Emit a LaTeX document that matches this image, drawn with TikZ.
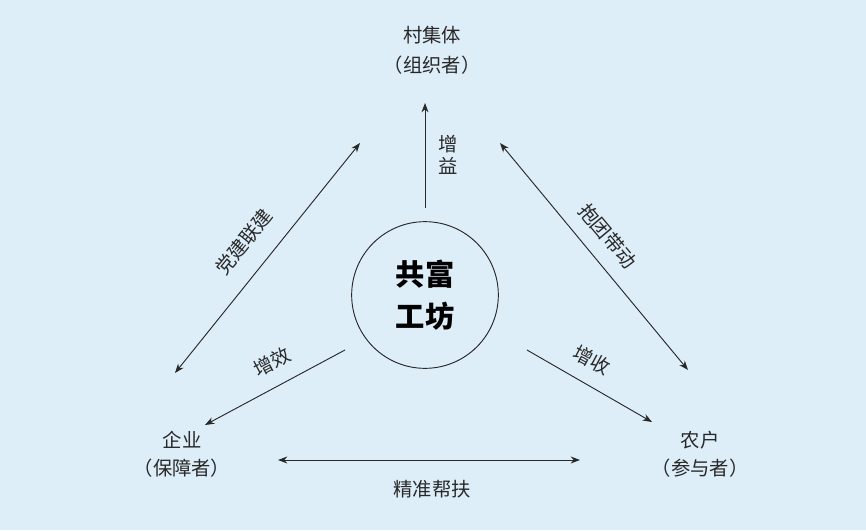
\documentclass[tikz,border=0pt]{standalone}
\usepackage{fontspec}
\newfontfamily\cjk{Noto Sans CJK SC}
\usetikzlibrary{arrows.meta}
\definecolor{bg}{RGB}{222,238,249}
\definecolor{ink}{RGB}{40,40,40}
\tikzset{
  lbl/.style={font=\cjk\fontsize{16.5}{19}\selectfont, text=ink, inner sep=0pt},
  arr/.style={-{Stealth[length=8pt,width=6pt]}, line width=0.8pt, draw=ink},
  darr/.style={{Stealth[length=8pt,width=6pt]}-{Stealth[length=8pt,width=6pt]}, line width=0.8pt, draw=ink}
}
\begin{document}
\begin{tikzpicture}[x=0.03cm,y=-0.03cm]
\fill[bg] (0,0) rectangle (866,530);
\useasboundingbox (0,0) rectangle (866,530);
\node[lbl] (t1) at (432,35) {村集体};
\node[lbl] (t2) at (432,65) {（组织者）};
\node[lbl] (l1) at (182,440) {企业};
\node[lbl] (l2) at (182,468) {（保障者）};
\node[lbl] (r1) at (700,440) {农户};
\node[lbl] (r2) at (700,468) {（参与者）};
\node[circle, draw=ink, line width=0.8pt, minimum size=4.4cm] (c) at (425,295) {};
\node[font=\cjk\bfseries\fontsize{25}{36}\selectfont, text=black, align=center] (ct) at (425,295) {共富\\工坊};
\coordinate (ua) at (425,208); \coordinate (ub) at (425,103);
\draw[arr] (ua) -- (ub);
\node[lbl, align=center] (zy) at (448,155) {增\\益};
\coordinate (la) at (360,143); \coordinate (lb) at (175,373);
\draw[darr] (la) -- (lb);
\node[lbl, rotate=51] (dj) at (244,242) {党建联建};
\coordinate (ra) at (500,143); \coordinate (rb) at (688,370);
\draw[darr] (ra) -- (rb);
\node[lbl, rotate=-50] (bt) at (608,236) {抱团带动};
\coordinate (ea) at (345,350); \coordinate (eb) at (205,425);
\draw[arr] (ea) -- (eb);
\node[lbl, rotate=28] (zx) at (272,362) {增效};
\coordinate (sa) at (527,350); \coordinate (sb) at (652,422);
\draw[arr] (sa) -- (sb);
\node[lbl, rotate=-28] (zs) at (592,360) {增收};
\coordinate (ba) at (278,460); \coordinate (bb) at (580,460);
\draw[darr] (ba) -- (bb);
\node[lbl] (jz) at (432,489) {精准帮扶};
\end{tikzpicture}
\end{document}
